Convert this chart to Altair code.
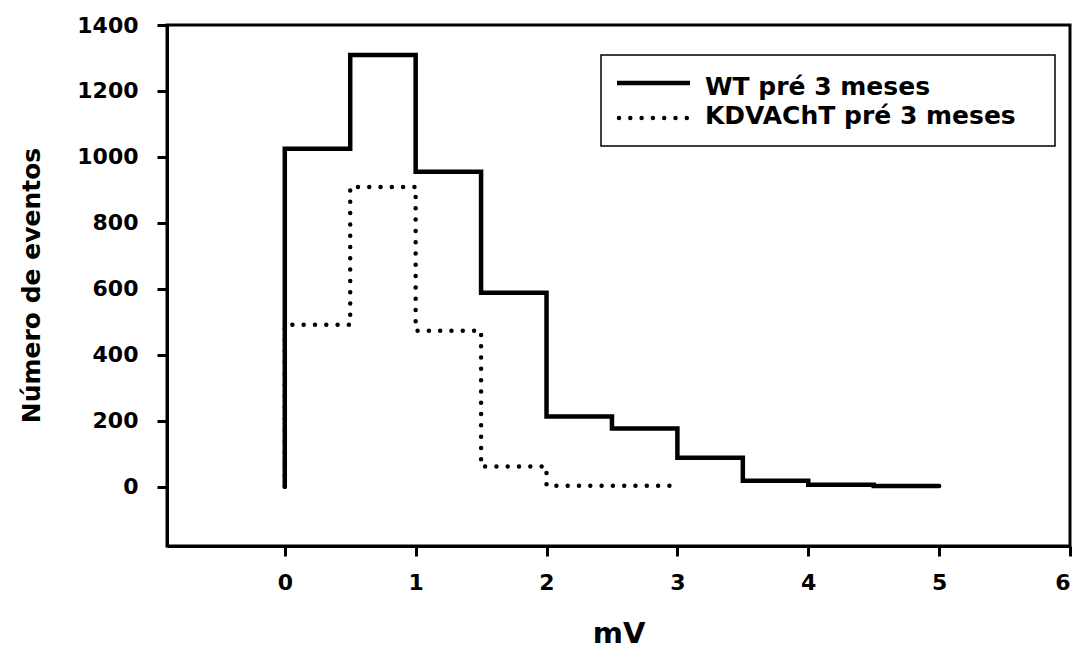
import altair as alt
import pandas as pd

# Bin starts (mV) and counts
wt_bins = [0.0, 0.5, 1.0, 1.5, 2.0, 2.5, 3.0, 3.5, 4.0, 4.5]
wt_counts = [1025, 1309, 955, 588, 213, 176, 88, 18, 6, 2]
wt_end = 5.0

kd_bins = [0.0, 0.5, 1.0, 1.5, 2.0, 2.5]
kd_counts = [491, 909, 473, 61, 3, 3]
kd_end = 3.0

x_ticks = [0, 1, 2, 3, 4, 5, 6]
y_ticks = [0, 200, 400, 600, 800, 1000, 1200, 1400]

series_names = ["WT pré 3 meses", "KDVAChT pré 3 meses"]


def steps(bins, counts, end):
    xs = [bins[0]] + list(bins) + [end]
    ys = [0] + list(counts) + [counts[-1]]
    return pd.DataFrame({"x": xs, "y": ys, "order": list(range(len(xs)))})


wt_df = steps(wt_bins, wt_counts, wt_end)
kd_df = steps(kd_bins, kd_counts, kd_end)

FONT = "DejaVu Sans"
W, H = 903, 521

xscale = alt.Scale(domain=[-0.9, 6], nice=False, zero=False)
yscale = alt.Scale(domain=[-180, 1400], nice=False, zero=False)

xenc = alt.X("x:Q", scale=xscale,
             axis=alt.Axis(values=x_ticks, title="mV", titleY=96,
                           titleBaseline="alphabetic", format="d"))
yenc = alt.Y("y:Q", scale=yscale,
             axis=alt.Axis(values=y_ticks, title="Número de eventos",
                           titleX=-128, titleY=260, titleBaseline="alphabetic",
                           titleAngle=270, titleAlign="center", format="d"))

wt_line = alt.Chart(wt_df).mark_line(
    interpolate="step-after", color="black", strokeWidth=4.5, strokeCap="round", strokeJoin="miter"
).encode(x=xenc, y=yenc, order="order:Q")

kd_line = alt.Chart(kd_df).mark_line(
    interpolate="step-after", color="black", strokeWidth=4.5, strokeCap="round",
    strokeDash=[0, 11.3]
).encode(x="x:Q", y="y:Q", order="order:Q")

one = pd.DataFrame({"a": [0]})

legend_box = alt.Chart(one).mark_rect(
    fill="white", stroke="black", strokeWidth=1.5
).encode(x=alt.value(434), x2=alt.value(888), y=alt.value(30), y2=alt.value(121))

leg_wt = alt.Chart(one).mark_rule(color="black", strokeWidth=4.5).encode(
    x=alt.value(450), x2=alt.value(523), y=alt.value(58))
leg_kd = alt.Chart(one).mark_rule(
    color="black", strokeWidth=4.5, strokeCap="round", strokeDash=[0, 11.3]
).encode(x=alt.value(452), x2=alt.value(520), y=alt.value(93))

leg_t1 = alt.Chart(one).mark_text(
    font=FONT, fontSize=25, fontWeight="bold", align="left", baseline="alphabetic", color="black"
).encode(x=alt.value(538), y=alt.value(70), text=alt.value(series_names[0]))
leg_t2 = alt.Chart(one).mark_text(
    font=FONT, fontSize=25, fontWeight="bold", align="left", baseline="alphabetic", color="black"
).encode(x=alt.value(538), y=alt.value(99), text=alt.value(series_names[1]))

chart = alt.layer(
    legend_box, wt_line, kd_line, leg_wt, leg_kd, leg_t1, leg_t2
).properties(
    width=W, height=H,
    autosize=alt.AutoSizeParams(type="none"),
    padding={"left": 159, "top": 17, "right": 5, "bottom": 110},
).configure_view(
    stroke="black", strokeWidth=3
).configure_axis(
    grid=False,
    domainColor="black", domainWidth=3,
    tickColor="black", tickWidth=3, tickSize=10,
    labelFont=FONT, labelFontSize=22, labelFontWeight="bold", labelColor="black",
    titleFont=FONT, titleFontWeight="bold", titleColor="black",
)
chart = chart.configure_axisX(labelPadding=16, titleFontSize=29)
chart = chart.configure_axisY(labelPadding=19, titleFontSize=25)

chart.save("out.html", embed_options={"renderer": "svg", "actions": False})
